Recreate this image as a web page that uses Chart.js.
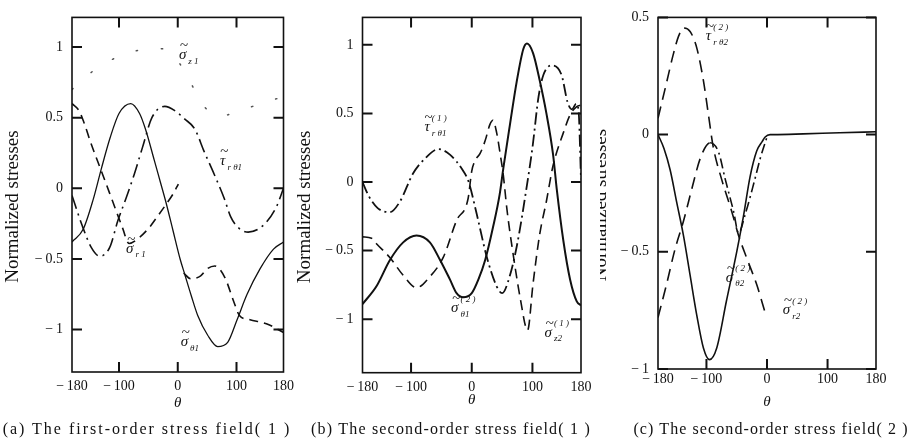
<!DOCTYPE html>
<html>
<head>
<meta charset="utf-8">
<script src="https://cdn.jsdelivr.net/npm/chart.js@4.4.1/dist/chart.umd.min.js"></script>
<style>
  body { margin: 0; background: #fff; width: 910px; height: 441px; position: relative; overflow: hidden; }
  canvas { position: absolute; top: 0; }
  .cap { position: absolute; top: 420px; height: 20px; line-height: 20px; font: 16px 'Liberation Serif', serif;
         color: #111; text-align: center; white-space: nowrap; }
</style>
</head>
<body>
<canvas id="chartA" width="300" height="441" style="left:0px"></canvas>
<canvas id="chartB" width="310" height="441" style="left:290px"></canvas>
<div style="position:absolute;left:600px;top:0;width:310px;height:441px;overflow:hidden">
  <canvas id="chartC" width="320" height="441" style="left:-10px"></canvas>
</div>
<div class="cap" style="left:0px;width:294px;letter-spacing:2px">(a) The first-order stress field( 1 )</div>
<div class="cap" style="left:305px;width:292px;letter-spacing:1.2px">(b) The second-order stress field( 1 )</div>
<div class="cap" style="left:625px;width:292px;letter-spacing:1.1px">(c) The second-order stress field( 2 )</div>
<script>
// tick labels
var thetaTicks = [-180, -100, 0, 100, 180];
var yTicksAB = [-1, -0.5, 0, 0.5, 1];
var yTicksC = [-1, -0.5, 0, 0.5];

// (a) first-order field
var thetaA_sigTheta = [-180, -161, -144, -130, -115, -100, -80, -65, -55, -40, -30, -20, -8, 4, 12, 23, 34, 51, 68, 85, 101, 118, 140, 163, 180];
var sigThetaA = [-0.38, -0.29, -0.08, 0.14, 0.36, 0.53, 0.6, 0.53, 0.42, 0.2, 0.05, -0.1, -0.3, -0.5, -0.61, -0.76, -0.9, -1.04, -1.12, -1.09, -0.93, -0.75, -0.57, -0.43, -0.38];
var thetaA_sigR1 = [-180, -168, -160, -147, -128, -111, -94, -83, -66, -49, -33, -21, -8, 1];
var sigR1A = [0.6, 0.55, 0.47, 0.31, 0.1, -0.09, -0.28, -0.39, -0.35, -0.28, -0.19, -0.12, -0.04, 0.03];
var thetaA_sigR2 = [10, 22, 39, 50, 63, 80, 96, 105, 123, 152, 180];
var sigR2A = [-0.6, -0.64, -0.62, -0.57, -0.55, -0.63, -0.81, -0.9, -0.93, -0.96, -1.02];
var thetaA_tau = [-180, -163, -147, -133, -116, -102, -88, -74, -60, -44, -22, -5, 12, 29, 45, 62, 79, 90, 101, 120, 146, 168, 180];
var tauA = [-0.05, -0.26, -0.42, -0.48, -0.42, -0.23, -0.07, 0.1, 0.29, 0.5, 0.58, 0.55, 0.49, 0.42, 0.26, 0.1, -0.07, -0.2, -0.27, -0.31, -0.26, -0.13, 0.0];
var thetaA_sigZ = [-180, -141, -90, -38, -13, 15, 45, 72, 104, 135, 180];
var sigZA = [0.7, 0.84, 0.95, 0.99, 0.97, 0.8, 0.58, 0.51, 0.55, 0.59, 0.65];

// (b) second-order field (1)
var thetaB_sol = [-180, -157, -135, -113, -91, -69, -52, -36, -25, -14, 0, 11, 22, 35, 46, 52, 63, 74, 85, 91, 101, 112, 123, 134, 140, 151, 162, 173, 180];
var solB = [-0.89, -0.76, -0.57, -0.44, -0.39, -0.44, -0.57, -0.71, -0.81, -0.84, -0.81, -0.71, -0.57, -0.33, -0.09, 0.1, 0.42, 0.73, 0.97, 1.01, 0.94, 0.74, 0.5, 0.2, -0.05, -0.43, -0.71, -0.87, -0.9];
var thetaB_tau = [-180, -170, -155, -135, -118, -97, -75, -55, -36, -14, -5, 8, 25, 41, 50, 63, 75, 90, 100, 110, 118, 132, 148, 158, 165, 172, 176, 180];
var tauB = [0.0, -0.1, -0.19, -0.22, -0.14, 0.06, 0.18, 0.24, 0.2, 0.08, 0.0, -0.23, -0.55, -0.76, -0.81, -0.68, -0.45, -0.05, 0.25, 0.62, 0.78, 0.85, 0.78, 0.58, 0.53, 0.57, 0.52, 0.02];
var thetaB_dash = [-180, -165, -157, -135, -113, -91, -69, -47, -25, -6, 0, 6, 14, 22, 30, 35, 41, 47, 52, 58, 68, 80, 92, 101, 112, 123, 134, 151, 162, 173, 180];
var dashB = [-0.4, -0.41, -0.45, -0.55, -0.68, -0.77, -0.69, -0.55, -0.28, -0.12, 0.08, 0.16, 0.21, 0.3, 0.42, 0.45, 0.36, 0.2, 0.05, -0.2, -0.52, -0.85, -1.08, -0.74, -0.38, -0.14, 0.12, 0.36, 0.49, 0.55, 0.56];

// (c) second-order field (2)
var thetaC_sol = [-180, -170, -160, -149, -138, -127, -116, -105, -95, -83, -67, -50, -39, -28, -17, -8, -3, 5, 11, 60, 120, 180];
var solC = [0.0, -0.06, -0.15, -0.29, -0.43, -0.6, -0.77, -0.91, -0.96, -0.91, -0.71, -0.5, -0.35, -0.18, -0.07, -0.03, -0.01, 0, 0, 0.003, 0.008, 0.012];
var thetaC_tau = [-180, -166, -155, -146, -138, -127, -116, -105, -97, -89, -75, -58, -47, -33, -17, -3];
var tauC = [0.07, 0.22, 0.34, 0.42, 0.455, 0.44, 0.37, 0.23, 0.09, -0.05, -0.19, -0.33, -0.43, -0.53, -0.64, -0.76];
var thetaC_sigR = [-180, -166, -152, -138, -124, -110, -94, -80, -69, -55, -47, -36, -22, -11, 0];
var sigRC = [-0.78, -0.64, -0.49, -0.37, -0.23, -0.1, -0.035, -0.075, -0.19, -0.33, -0.42, -0.34, -0.21, -0.1, -0.01];

// curve labels (anchored in data units)
var labelsA = [
    {x: 2, y: 0.94, base: 'σ', sub: 'z 1'},
    {x: 72, y: 0.19, base: 'τ', sub: 'r θ1'},
    {x: -88, y: -0.43, base: 'σ', sub: 'r 1'},
    {x: 5, y: -1.09, base: 'σ', sub: 'θ1'}
];
var labelsB = [
    {x: -78, y: 0.4, base: 'τ', sup: '( 1 )', sub: 'r θ1'},
    {x: -34, y: -0.92, base: 'σ', sup: '( 2 )', sub: 'θ1'},
    {x: 120, y: -1.1, base: 'σ', sup: '( 1 )', sub: 'z2'}
];
var labelsC = [
    {x: -101, y: 0.42, base: 'τ', sup: '( 2 )', sub: 'r θ2'},
    {x: -68, y: -0.61, base: 'σ', sup: '( 2 )', sub: 'θ2'},
    {x: 26, y: -0.75, base: 'σ', sup: '( 2 )', sub: 'r2'}
];

var ink = '#111';
var serif = "'Liberation Serif', 'DejaVu Serif', serif";

function pts(xs, ys) {
    var out = [];
    for (var i = 0; i < xs.length; i++) {
        out.push({x: xs[i], y: ys[i]});
    }
    return out;
}

function fmt(v) {
    return v < 0 ? '\u2212\u2009' + Math.abs(v) : String(v);
}

// frame + inward ticks on all four sides
var frameTicks = {
    id: 'frameTicks',
    afterDatasetsDraw: function(chart) {
        var ctx = chart.ctx, a = chart.chartArea, x = chart.scales.x, y = chart.scales.y;
        ctx.save();
        ctx.strokeStyle = ink;
        ctx.lineWidth = 1.6;
        ctx.strokeRect(a.left, a.top, a.right - a.left, a.bottom - a.top);
        ctx.lineWidth = 2;
        ctx.beginPath();
        x.ticks.forEach(function(t) {
            if (t.value <= x.min || t.value >= x.max) return;
            var px = x.getPixelForValue(t.value);
            ctx.moveTo(px, a.top); ctx.lineTo(px, a.top + 10);
            ctx.moveTo(px, a.bottom); ctx.lineTo(px, a.bottom - 10);
        });
        y.ticks.forEach(function(t) {
            var py = y.getPixelForValue(t.value);
            ctx.moveTo(a.left, py); ctx.lineTo(a.left + 10, py);
            ctx.moveTo(a.right, py); ctx.lineTo(a.right - 10, py);
        });
        ctx.stroke();
        ctx.restore();
    }
};

// sigma / tau with a tilde on top, plus superscript and subscript
var curveLabels = {
    id: 'curveLabels',
    afterDatasetsDraw: function(chart, args, opts) {
        var ctx = chart.ctx, x = chart.scales.x, y = chart.scales.y;
        ctx.save();
        ctx.fillStyle = ink;
        ctx.textBaseline = 'middle';
        (opts.items || []).forEach(function(l) {
            var px = x.getPixelForValue(l.x), py = y.getPixelForValue(l.y);
            ctx.font = 'italic 15px ' + serif;
            ctx.textAlign = 'left';
            var w = ctx.measureText(l.base).width;
            ctx.fillText(l.base, px, py);
            ctx.font = '15px ' + serif;
            ctx.textAlign = 'center';
            ctx.fillText('~', px + w / 2 + 1.5, py - 9);
            ctx.textAlign = 'left';
            ctx.font = 'italic 9px ' + serif;
            if (l.sup) ctx.fillText(l.sup, px + w + 2, py - 9);
            if (l.sub) ctx.fillText(l.sub, px + w + 2, py + 6);
        });
        ctx.restore();
    }
};

function makeChart(id, o) {
    return new Chart(document.getElementById(id), {
        type: 'line',
        data: {datasets: o.datasets},
        options: {
            responsive: false,
            animation: false,
            devicePixelRatio: 1,
            layout: {autoPadding: false, padding: o.padding},
            elements: {
                point: {radius: 0},
                line: {cubicInterpolationMode: 'monotone', borderColor: ink, fill: false, borderWidth: 1.5}
            },
            plugins: {
                legend: {display: false},
                tooltip: {enabled: false},
                curveLabels: {items: o.labels}
            },
            scales: {
                x: {
                    type: 'linear', min: -180, max: 180,
                    afterBuildTicks: function(s) { s.ticks = thetaTicks.map(function(v) { return {value: v}; }); },
                    afterFit: function(s) { s.height = o.xHeight; },
                    grid: {display: false, drawTicks: false},
                    border: {display: false},
                    ticks: {padding: o.xTickPad, color: ink, font: {family: serif, size: 14}, autoSkip: false, maxRotation: 0,
                            callback: function(v) { return fmt(v); }},
                    title: {display: true, text: 'θ', color: ink, font: {family: serif, size: 15, style: 'italic'},
                            padding: {top: 0, bottom: o.thetaPad}}
                },
                y: {
                    type: 'linear', min: o.yMin, max: o.yMax,
                    afterBuildTicks: function(s) { s.ticks = o.yTicks.map(function(v) { return {value: v}; }); },
                    afterFit: function(s) { s.width = o.yWidth; },
                    grid: {display: false, drawTicks: false},
                    border: {display: false},
                    ticks: {padding: 9, color: ink, font: {family: serif, size: 14}, autoSkip: false,
                            callback: function(v) { return fmt(v); }},
                    title: {display: true, text: 'Normalized stresses\u00a0\u00a0\u00a0\u00a0\u00a0', color: ink,
                            font: {family: serif, size: 19},
                            padding: {top: o.yTitlePad, bottom: 0}}
                }
            }
        },
        plugins: [frameTicks, curveLabels]
    });
}

makeChart('chartA', {
    padding: {left: 0, right: 12.5, top: 14, bottom: 24},
    yWidth: 72, xHeight: 45, xTickPad: 6, thetaPad: 5, yTitlePad: 2,
    yMin: -1.3, yMax: 1.21, yTicks: yTicksAB, labels: labelsA,
    datasets: [
        {data: pts(thetaA_sigTheta, sigThetaA), borderWidth: 1.3},
        {data: pts(thetaA_sigR1, sigR1A), borderDash: [9, 6], borderWidth: 1.6},
        {data: pts(thetaA_sigR2, sigR2A), borderDash: [9, 6], borderWidth: 1.6},
        {data: pts(thetaA_tau, tauA), borderDash: [14, 5, 2, 5], borderWidth: 1.6},
        {data: pts(thetaA_sigZ, sigZA), borderDash: [1.3, 24], borderWidth: 1.5, borderCapStyle: 'round', borderColor: '#555'}
    ]
});

makeChart('chartB', {
    padding: {left: 0, right: 19, top: 13.3, bottom: 24},
    yWidth: 72.5, xHeight: 44.3, xTickPad: 6, thetaPad: 8, yTitlePad: 3.6,
    yMin: -1.39, yMax: 1.2, yTicks: yTicksAB, labels: labelsB,
    datasets: [
        {data: pts(thetaB_sol, solB), borderWidth: 2},
        {data: pts(thetaB_tau, tauB), borderDash: [12, 4, 2, 4], borderWidth: 1.8},
        {data: pts(thetaB_dash, dashB), borderDash: [10, 6], borderWidth: 1.6}
    ]
});

makeChart('chartC', {
    padding: {left: 0, right: 34, top: 10, bottom: 24},
    yWidth: 68, xHeight: 48, xTickPad: 2, thetaPad: 6, yTitlePad: 0,
    yMin: -1, yMax: 0.5, yTicks: yTicksC, labels: labelsC,
    datasets: [
        {data: pts(thetaC_sol, solC), borderWidth: 1.6},
        {data: pts(thetaC_tau, tauC), borderDash: [12, 7], borderWidth: 1.6},
        {data: pts(thetaC_sigR, sigRC), borderWidth: 1.6,
         segment: {borderDash: function(c) { return c.p0.parsed.x >= -94 ? [10, 4, 2, 4] : [12, 7]; }}}
    ]
});
</script>
</body>
</html>
